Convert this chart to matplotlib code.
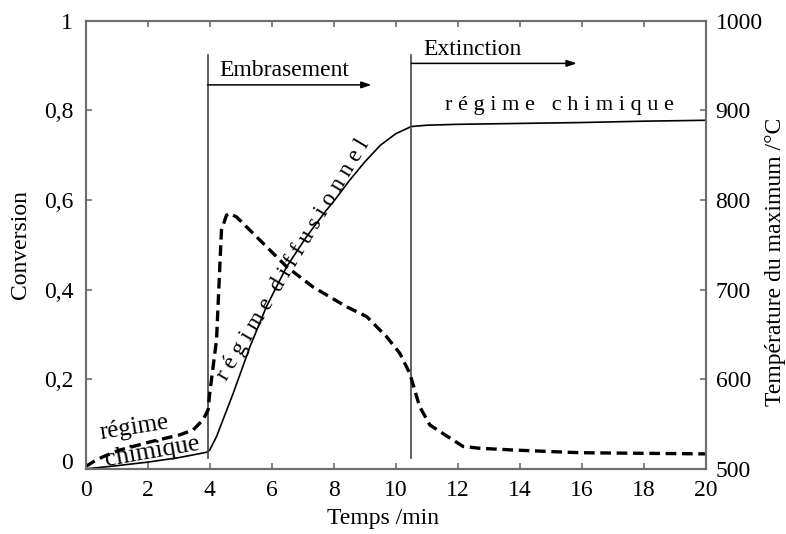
import matplotlib
matplotlib.use("Agg")
import matplotlib.pyplot as plt

plt.rcParams["font.family"] = ["Liberation Serif", "DejaVu Serif"]

# conversion (solid line, left axis)
t_conv = [0, 1, 2, 3, 3.9, 4.0, 4.22, 4.76, 5.3, 5.83, 6.48, 7.12, 7.77,
          8.0, 8.5, 9.0, 9.5, 10.0, 10.5, 11.0, 12, 14, 16, 18, 20]
conv = [0, 0.007, 0.015, 0.025, 0.037, 0.042, 0.072, 0.169, 0.273, 0.362,
        0.451, 0.518, 0.578, 0.597, 0.643, 0.685, 0.722, 0.748, 0.764, 0.767,
        0.769, 0.771, 0.773, 0.776, 0.778]

# temperature of the maximum (dashed line, right axis)
t_temp = [0, 0.25, 0.57, 1.1, 2.07, 3.04, 3.47, 3.79, 3.95, 4.0, 4.22, 4.33,
          4.38, 4.54, 4.65, 4.87, 5.51, 6.48, 7.33, 8.41, 9.06, 9.7, 10.13,
          10.45, 10.77, 11.1, 11.63, 12.17, 12.7, 13.8, 15.93, 20]
temp = [502.6, 508, 513.7, 521, 530, 538, 543.5, 555, 566, 584, 644, 729,
        766.5, 783, 785, 781, 759, 725.6, 703, 681, 670, 647.6, 629, 606.7,
        569.5, 549, 537, 525, 523, 521, 518, 516.7]

x_ticks = [0, 2, 4, 6, 8, 10, 12, 14, 16, 18, 20]
conv_ticks = [0, 0.2, 0.4, 0.6, 0.8, 1]
conv_labels = ["0", "0,2", "0,4", "0,6", "0,8", "1"]
temp_ticks = [500, 600, 700, 800, 900, 1000]

t_embrasement = 3.93
t_extinction = 10.5

spine_col = "#6e6e6e"
fs = 17

fig = plt.figure(figsize=(7.86, 5.34), dpi=100)
ax = fig.add_axes([0.109, 0.122, 0.789, 0.839])
ax2 = ax.twinx()

ax.plot(t_conv, conv, color="black", lw=1.2)
ax2.plot(t_temp, temp, color="black", lw=2.4, ls=(0, (3.2, 1.7)))

ax.set_xlim(0, 20)
ax.set_ylim(0, 1)
ax2.set_ylim(500, 1000)

ax.set_xticks(x_ticks)
ax.set_xticklabels([str(v) for v in x_ticks])
ax.set_yticks(conv_ticks)
ax.set_yticklabels(conv_labels)
ax2.set_yticks(temp_ticks)
ax2.set_yticklabels([str(v) for v in temp_ticks])
ax.get_yticklabels()[0].set_va("baseline")

ax.tick_params(axis="x", direction="in", top=True, length=4, width=1.2,
               color=spine_col, labelsize=fs, pad=8)
ax.tick_params(axis="y", direction="in", length=4, width=1.2,
               color=spine_col, labelsize=fs, pad=9)
ax2.tick_params(axis="y", direction="in", length=4, width=1.2,
                color=spine_col, labelsize=fs, pad=7)
for a in (ax, ax2):
    for s in a.spines.values():
        s.set_color(spine_col)
        s.set_linewidth(1.5)

ax.set_xlabel("Temps /min", fontsize=fs)
ax.xaxis.set_label_coords(0.479, -0.088)
ax.set_ylabel("Conversion", fontsize=fs, labelpad=9)
fig.text(775 / 786, 1 - 262 / 534, "Température du maximum /°C", fontsize=fs,
         rotation=90, ha="center", va="center")

# phase markers
ax.plot([t_embrasement, t_embrasement], [0.025, 0.923], color="#444444", lw=1.2)
ax.plot([t_extinction, t_extinction], [0.025, 0.923], color="#444444", lw=1.2)
arrow = dict(arrowstyle="-|>,head_length=0.6,head_width=0.2", color="black", lw=1.1,
             shrinkA=0, shrinkB=0)
ax.annotate("", xy=(9.22, 0.857), xytext=(t_embrasement, 0.857), arrowprops=arrow)
ax.annotate("", xy=(15.84, 0.905), xytext=(t_extinction, 0.905), arrowprops=arrow)
ax.text(4.3, 0.89, "Embrasement", fontsize=fs, ha="left", va="center")
ax.text(10.9, 0.937, "Extinction", fontsize=fs, ha="left", va="center")

# regime labels
ax.text(1.56, 0.091, "régime", fontsize=18, rotation=9, ha="center", va="center")
ax.text(2.14, 0.038, "chimique", fontsize=18.5, rotation=10, ha="center", va="center")
ax.text(6.69, 0.466, " ".join("régime") + "  " + " ".join("diffusionnel"),
        fontsize=16.5, rotation=59, ha="center", va="center")
ax.text(15.29, 0.812, " ".join("régime") + "   " + " ".join("chimique"),
        fontsize=16, ha="center", va="center")

fig.savefig("out.png", dpi=100)
